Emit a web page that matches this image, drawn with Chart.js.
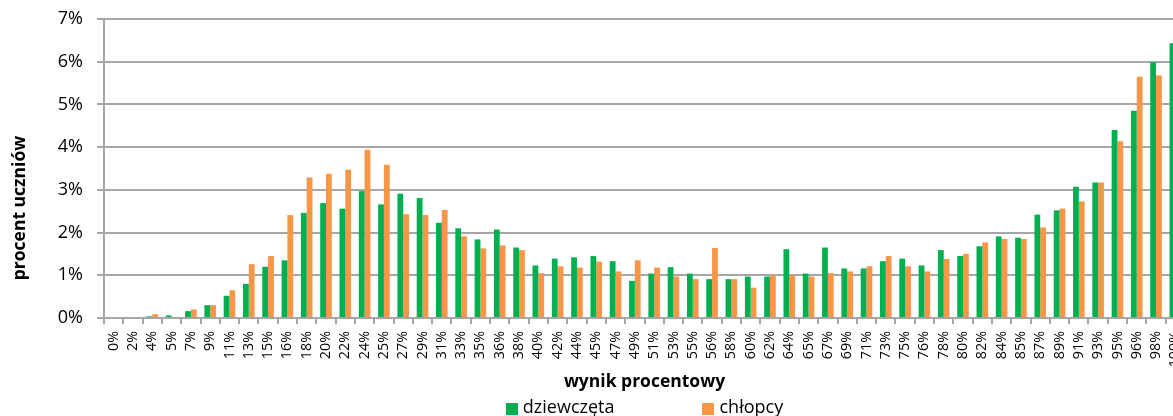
<!DOCTYPE html>
<html>
<head>
<meta charset="utf-8">
<script src="https://cdn.jsdelivr.net/npm/chart.js@4.4.1/dist/chart.umd.min.js"></script>
<style>
  html, body { margin: 0; padding: 0; background: #ffffff; overflow: hidden; }
  #wrap { width: 1190px; height: 430px; }
</style>
</head>
<body>
<div id="wrap"><canvas id="c" width="1190" height="430"></canvas></div>
<script>
const categories = ['0%','2%','4%','5%','7%','9%','11%','13%','15%','16%','18%','20%','22%','24%','25%','27%','29%','31%','33%','35%','36%','38%','40%','42%','44%','45%','47%','49%','51%','53%','55%','56%','58%','60%','62%','64%','65%','67%','69%','71%','73%','75%','76%','78%','80%','82%','84%','85%','87%','89%','91%','93%','95%','96%','98%','100%'];

const girls = [0,0,0.04,0.06,0.16,0.30,0.52,0.80,1.20,1.35,
  2.46,2.69,2.56,2.97,2.66,2.91,2.81,2.23,2.10,1.84,
  2.07,1.65,1.23,1.39,1.42,1.45,1.33,0.87,1.04,1.19,
  1.04,0.91,0.91,0.97,0.97,1.61,1.04,1.65,1.16,1.16,
  1.33,1.39,1.23,1.59,1.45,1.68,1.91,1.88,2.42,2.52,
  3.07,3.17,4.40,4.85,5.99,6.43];

const boys = [0,0,0.09,0,0.20,0.30,0.65,1.26,1.45,2.41,
  3.29,3.38,3.47,3.94,3.59,2.43,2.41,2.53,1.91,1.63,
  1.70,1.59,1.05,1.21,1.18,1.32,1.09,1.35,1.18,0.97,
  0.91,1.64,0.91,0.71,1.00,1.00,0.97,1.05,1.09,1.21,
  1.45,1.21,1.09,1.38,1.50,1.77,1.85,1.85,2.12,2.56,
  2.73,3.17,4.14,5.65,5.68,5.90];

const seriesNames = ['dziewczęta', 'chłopcy'];
const seriesColors = ['#00B050', '#F79646'];
const yTicks = [0,1,2,3,4,5,6,7];
const xTitle = 'wynik procentowy';
const yTitle = 'procent uczniów';

const FONT = "'Open Sans', 'Liberation Sans', sans-serif";
const GRID = '#a6a6a6';

const extras = {
  id: 'extras',
  afterDraw(chart) {
    const ctx = chart.ctx;
    const area = chart.chartArea;
    ctx.save();
    // y-axis title
    ctx.fillStyle = '#000';
    ctx.font = "bold 17.5px " + FONT;
    ctx.textAlign = 'center';
    ctx.textBaseline = 'middle';
    ctx.translate(20, 208);
    ctx.rotate(-Math.PI / 2);
    ctx.fillText(yTitle, 0, 0);
    ctx.restore();

    // legend
    ctx.save();
    ctx.font = "18px " + FONT;
    ctx.textBaseline = 'alphabetic';
    ctx.textAlign = 'left';
    const box = 12, gapText = 5, gapItem = 88;
    const items = chart.data.datasets.map(d => ({
      text: d.label, color: d.backgroundColor,
      w: box + gapText + ctx.measureText(d.label).width
    }));
    const total = items.reduce((s, it) => s + it.w, 0) + gapItem * (items.length - 1);
    let x = (area.left + area.right) / 2 - total / 2;
    const boxTop = 403, baseline = 413;
    items.forEach(it => {
      ctx.fillStyle = it.color;
      ctx.fillRect(Math.round(x), boxTop, box, box);
      ctx.fillStyle = '#000';
      ctx.fillText(it.text, x + box + gapText, baseline);
      x += it.w + gapItem;
    });
    ctx.restore();
  }
};

new Chart(document.getElementById('c'), {
  type: 'bar',
  data: {
    labels: categories,
    datasets: [
      { label: seriesNames[0], data: girls, backgroundColor: seriesColors[0], borderWidth: 0 },
      { label: seriesNames[1], data: boys, backgroundColor: seriesColors[1], borderWidth: 0 }
    ]
  },
  options: {
    responsive: false,
    animation: false,
    devicePixelRatio: 1,
    layout: { padding: { top: 19, right: 5, bottom: 37, left: 0 } },
    datasets: { bar: { barPercentage: 1.0, categoryPercentage: 0.6 } },
    plugins: {
      legend: { display: false },
      tooltip: { enabled: false },
      title: { display: false }
    },
    scales: {
      x: {
        offset: true,
        grid: {
          offset: true,
          drawOnChartArea: false,
          drawTicks: true,
          tickLength: 6,
          color: GRID,
          lineWidth: 2
        },
        border: { display: true, color: GRID, width: 2 },
        ticks: {
          autoSkip: false,
          minRotation: 90,
          maxRotation: 90,
          padding: 7,
          color: '#000',
          font: { family: FONT, size: 14.3 }
        },
        title: {
          display: true,
          text: xTitle,
          color: '#000',
          font: { family: FONT, size: 17.5, weight: 'bold' },
          padding: { top: 0, bottom: 0 }
        },
        afterFit(scale) {
          scale.height = 75;
          scale.paddingLeft = 0;
          scale.paddingRight = 0;
        }
      },
      y: {
        min: 0,
        max: 7,
        afterBuildTicks(scale) { scale.ticks = yTicks.map(v => ({ value: v })); },
        grid: {
          drawTicks: true,
          tickLength: 7,
          color: GRID,
          lineWidth: 2
        },
        border: { display: true, color: GRID, width: 2 },
        ticks: {
          padding: 14,
          color: '#000',
          font: { family: FONT, size: 18 },
          callback: v => v + '%'
        },
        afterFit(scale) {
          scale.width = 104;
          scale.paddingTop = 0;
          scale.paddingBottom = 0;
        }
      }
    }
  },
  plugins: [extras]
});
</script>
</body>
</html>
